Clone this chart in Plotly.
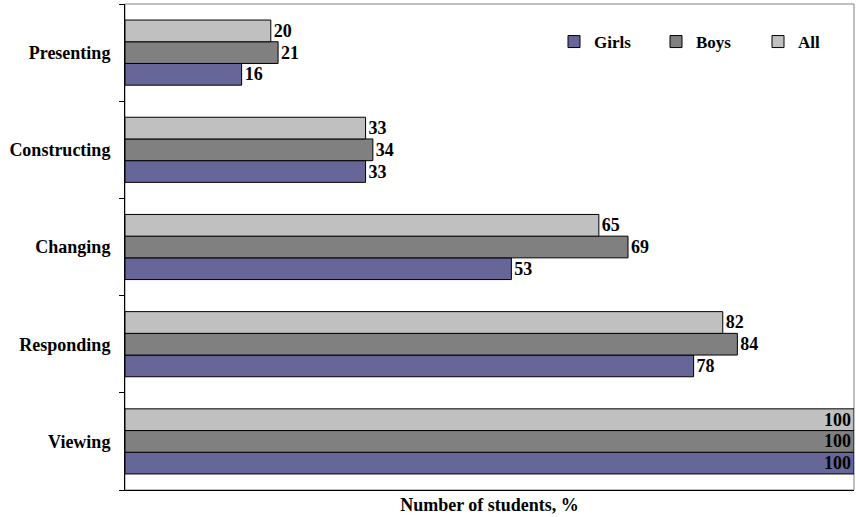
import plotly.graph_objects as go

# Activities, listed bottom to top on the category axis
categories = ["Viewing", "Responding", "Changing", "Constructing", "Presenting"]

girls = [100, 78, 53, 33, 16]
boys = [100, 84, 69, 34, 21]
all_students = [100, 82, 65, 33, 20]

series = [
    ("Girls", girls, "#666699"),
    ("Boys", boys, "#808080"),
    ("All", all_students, "#C0C0C0"),
]

FONT = "'Times New Roman', 'Liberation Serif', 'DejaVu Serif', serif"

fig = go.Figure()
for name, values, color in series:
    positions = ["inside" if v >= 100 else "outside" for v in values]
    fig.add_trace(go.Bar(
        name=f"<b>{name}</b>",
        y=categories,
        x=values,
        orientation="h",
        marker=dict(color=color, line=dict(color="#000000", width=1)),
        text=[f"<b>{v}</b>" for v in values],
        textposition=positions,
        insidetextanchor="end",
        textfont=dict(family=FONT, size=18, color="#000000"),
        insidetextfont=dict(family=FONT, size=18, color="#000000"),
        outsidetextfont=dict(family=FONT, size=18, color="#000000"),
        cliponaxis=False,
    ))

fig.update_layout(
    width=856,
    height=517,
    margin=dict(l=125, r=2, t=4, b=27, autoexpand=False),
    paper_bgcolor="white",
    plot_bgcolor="white",
    barmode="group",
    bargap=0.33,
    bargroupgap=0,
    font=dict(family=FONT, size=18, color="#000000"),
    showlegend=True,
    legend=dict(
        orientation="h",
        x=(554 - 125) / 729,
        xanchor="left",
        y=(490 - 42) / 486,
        yanchor="middle",
        entrywidth=57,
        itemwidth=30,
        font=dict(family=FONT, size=17, color="#000000"),
        bgcolor="rgba(0,0,0,0)",
    ),
    uniformtext=dict(minsize=18, mode="show"),
    shapes=[dict(
        type="rect", xref="paper", yref="paper", x0=0, x1=1, y0=0, y1=1,
        line=dict(color="#808080", width=1), layer="below",
    )],
)

fig.update_xaxes(
    range=[0, 100],
    showticklabels=False,
    ticks="",
    showgrid=False,
    zeroline=False,
    showline=True,
    linecolor="#000000",
    linewidth=1,
    title=dict(
        text="<b>Number of students, %</b>",
        font=dict(family=FONT, size=18, color="#000000"),
        standoff=8,
    ),
)

fig.update_yaxes(
    categoryorder="array",
    categoryarray=categories,
    ticktext=[f"<b>{c}</b>" for c in categories],
    tickvals=categories,
    tickson="boundaries",
    ticks="outside",
    ticklen=5,
    tickcolor="#000000",
    ticklabelstandoff=10,
    showgrid=False,
    showline=True,
    linecolor="#000000",
    linewidth=1,
    tickfont=dict(family=FONT, size=18, color="#000000"),
)

fig.write_html("out.html")
